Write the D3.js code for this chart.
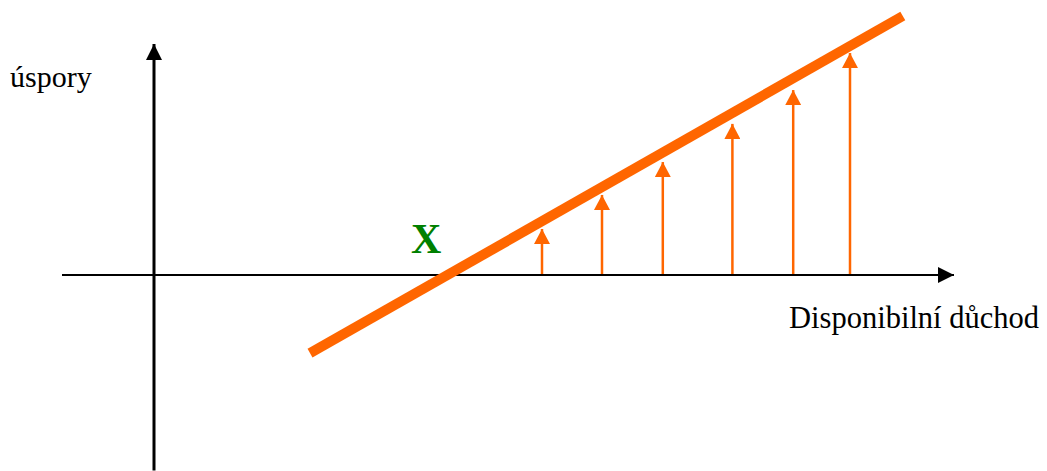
<!DOCTYPE html>
<html>
<head>
<meta charset="utf-8">
<script src="https://cdn.jsdelivr.net/npm/d3@7"></script>
<style>
  body { margin: 0; background: #fff; }
  text { font-family: "Liberation Serif", "Times New Roman", serif; }
</style>
</head>
<body>
<div id="chart-area"></div>
<script>
// savings function diagram (úspory vs disponibilní důchod)
let width = 1047;
let height = 471;

// axis extents in data units
let xAxisRange = [-11.5, 100];
let yAxisRange = [-85, 100];

// savings line end points
let lineIncome = [19.5, 93.6];
let lineSavings = [-34, 112.6];

// arrows: income where each arrow stands, savings where it points to
let arrowIncome = [48.5, 56, 63.6, 72.3, 79.9, 87];
let arrowSavings = [20, 34.8, 49.1, 65.7, 80.4, 96.5];

let orange = "#ff6600";

let svg = d3.select("#chart-area")
    .append("svg")
    .attr("width", width)
    .attr("height", height);

let x = d3.scaleLinear()
    .domain([0, 100])
    .range([154, 954]);

let y = d3.scaleLinear()
    .domain([0, 100])
    .range([275, 45]);

let defs = svg.append("defs");

// black arrow head for the axes
defs.append("marker")
    .attr("id", "axisHead")
    .attr("markerUnits", "userSpaceOnUse")
    .attr("viewBox", "0 0 16 16")
    .attr("refX", 16)
    .attr("refY", 8)
    .attr("markerWidth", 16)
    .attr("markerHeight", 16)
    .attr("orient", "auto")
    .append("path")
    .attr("d", "M0,0 L16,8 L0,16 Z")
    .attr("fill", "#000");

// orange arrow head
defs.append("marker")
    .attr("id", "orangeHead")
    .attr("markerUnits", "userSpaceOnUse")
    .attr("viewBox", "0 0 15 16")
    .attr("refX", 15)
    .attr("refY", 8)
    .attr("markerWidth", 15)
    .attr("markerHeight", 16)
    .attr("orient", "auto")
    .append("path")
    .attr("d", "M0,0 L15,8 L0,16 Z")
    .attr("fill", orange);

// x axis
svg.append("line")
    .attr("x1", x(xAxisRange[0]))
    .attr("x2", x(xAxisRange[1]))
    .attr("y1", y(0))
    .attr("y2", y(0))
    .attr("stroke", "#000")
    .attr("stroke-width", 2)
    .attr("marker-end", "url(#axisHead)");

// y axis
svg.append("line")
    .attr("x1", x(0))
    .attr("x2", x(0))
    .attr("y1", y(yAxisRange[0]))
    .attr("y2", y(yAxisRange[1]) - 1)
    .attr("stroke", "#000")
    .attr("stroke-width", 3)
    .attr("marker-end", "url(#axisHead)");

// arrows
let arrows = arrowIncome.map(function(d, i){
    return {income: d, savings: arrowSavings[i]};
});

svg.selectAll(".arrow")
    .data(arrows)
    .enter()
    .append("line")
    .attr("class", "arrow")
    .attr("x1", function(d){ return x(d.income); })
    .attr("x2", function(d){ return x(d.income); })
    .attr("y1", y(0) - 1)
    .attr("y2", function(d){ return y(d.savings); })
    .attr("stroke", orange)
    .attr("stroke-width", 2.5)
    .attr("marker-end", "url(#orangeHead)");

// savings line
svg.append("line")
    .attr("x1", x(lineIncome[0]))
    .attr("x2", x(lineIncome[1]))
    .attr("y1", y(lineSavings[0]))
    .attr("y2", y(lineSavings[1]))
    .attr("stroke", orange)
    .attr("stroke-width", 10);

// labels
svg.append("text")
    .text("úspory")
    .attr("x", 10)
    .attr("y", 87)
    .attr("font-size", "30px");

svg.append("text")
    .text("Disponibilní důchod")
    .attr("x", 1039)
    .attr("y", 328)
    .attr("text-anchor", "end")
    .attr("font-size", "30.5px");

svg.append("text")
    .text("X")
    .attr("x", 411)
    .attr("y", 253)
    .attr("font-size", "42px")
    .attr("font-weight", "bold")
    .attr("fill", "#008000");
</script>
</body>
</html>
